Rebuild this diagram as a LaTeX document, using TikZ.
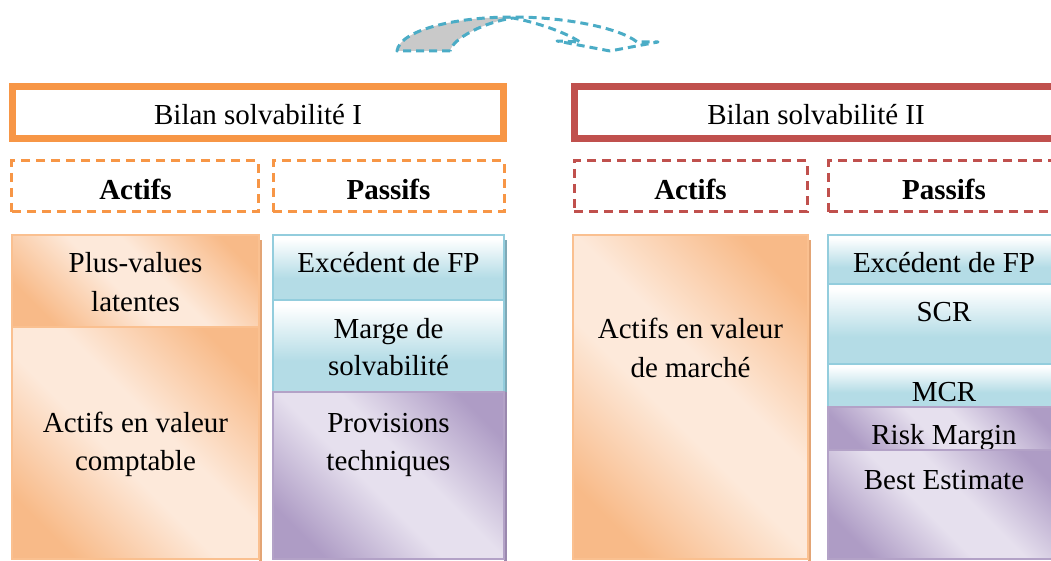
\documentclass[tikz,border=0pt]{standalone}
\usepackage{fontspec}
\setmainfont{Liberation Serif}

% palette
\definecolor{orangeI}{HTML}{F79646}
\definecolor{redII}{HTML}{C0504D}
\definecolor{odark}{HTML}{F8BA88}
\definecolor{olight}{HTML}{FDE9DA}
\definecolor{oborder}{HTML}{FAC090}
\definecolor{oshadow}{HTML}{E3A575}
\definecolor{bdark}{HTML}{B4DCE6}
\definecolor{bborder}{HTML}{93CDDD}
\definecolor{bshadow}{HTML}{7FA9B6}
\definecolor{pdark}{HTML}{AE9CC5}
\definecolor{plight}{HTML}{E6E0EE}
\definecolor{pborder}{HTML}{B3A2C7}
\definecolor{pshadow}{HTML}{9A88AE}
\definecolor{arrowblue}{HTML}{4BACC6}
\definecolor{arrowgray}{HTML}{C9C9C9}

% diagonal bands: dark corners, light middle
\pgfdeclarehorizontalshading{orangeband}{100bp}{color(0bp)=(odark); color(24bp)=(odark); color(45bp)=(olight); color(56bp)=(olight); color(77bp)=(odark); color(100bp)=(odark)}
\pgfdeclarehorizontalshading{purpleband}{100bp}{color(0bp)=(pdark); color(24bp)=(pdark); color(45bp)=(plight); color(56bp)=(plight); color(77bp)=(pdark); color(100bp)=(pdark)}
% white on top, blue at the bottom
\pgfdeclareverticalshading{bluefade}{100bp}{color(0bp)=(bdark); color(25bp)=(bdark); color(42bp)=(bdark); color(72bp)=(white); color(100bp)=(white)}

\tikzset{
  txt/.style={font=\fontsize{29bp}{39bp}\selectfont, inner sep=0pt, anchor=base},
  hdr/.style={font=\fontsize{29bp}{39bp}\selectfont\bfseries, inner sep=0pt, anchor=base},
  titlebox/.style={draw=#1, line width=7bp, fill=white, inner sep=0pt},
  headbox/.style={draw=#1, line width=3bp, dash pattern=on 9bp off 6bp, inner sep=0pt},
  orangecell/.style={draw=oborder, line width=2.5bp, shading=orangeband, shading angle=45},
  bluecell/.style={draw=bborder, line width=2.5bp, shading=bluefade},
  purplecell/.style={draw=pborder, line width=2.5bp, shading=purpleband, shading angle=45},
  arrowline/.style={draw=arrowblue, line width=3bp, dash pattern=on 8bp off 5bp},
}

\begin{document}
\begin{tikzpicture}[x=1bp, y=-1bp]
\useasboundingbox (0,0) rectangle (1051,561);

% ---- curved arrow between the two balance sheets
\coordinate (tailL) at (397,51);
\coordinate (tailR) at (450,51);
\coordinate (apex) at (513,17);
\coordinate (apexin) at (513,18);
\coordinate (shaftout) at (637,42);
\coordinate (shaftin) at (580,42);
\coordinate (barbR) at (658,42);
\coordinate (barbL) at (557,41);
\coordinate (tip) at (610,51);
\fill[arrowgray] (tailL) .. controls (400,30) and (455,17) .. (apex)
   -- (apexin) .. controls (485,22) and (453,38) .. (tailR) -- cycle;
\draw[arrowline, line join=round]
   (tailR) -- (tailL) .. controls (400,30) and (455,17) .. (apex)
   .. controls (565,17) and (620,28) .. (shaftout) -- (barbR) -- (tip) -- (barbL) -- (shaftin)
   .. controls (565,32) and (535,22) .. (apexin)
   .. controls (485,22) and (453,38) .. (tailR);

% ---- titles
\node[titlebox=orangeI, minimum width=491bp, minimum height=52bp] (bilanI) at (258,113) {};
\node[txt] (bilanItxt) at (258,125) {Bilan solvabilité I};
\node[titlebox=redII, minimum width=484bp, minimum height=52bp] (bilanII) at (816.5,113) {};
\node[txt] (bilanIItxt) at (816,125) {Bilan solvabilité II};

% ---- column headers
\node[headbox=orangeI, minimum width=246bp, minimum height=51bp] (actI) at (135,186.5) {};
\node[hdr] (actItxt) at (135.5,200) {Actifs};
\node[headbox=orangeI, minimum width=231bp, minimum height=51bp] (pasI) at (388.5,186.5) {};
\node[hdr] (pasItxt) at (388.5,200) {Passifs};
\node[headbox=redII, minimum width=233bp, minimum height=51bp] (actII) at (690.5,186.5) {};
\node[hdr] (actIItxt) at (690.5,200) {Actifs};
\node[headbox=redII, minimum width=231bp, minimum height=51bp] (pasII) at (944,186.5) {};
\node[hdr] (pasIItxt) at (944,200) {Passifs};

% ---- soft shadows on the right of the columns
\fill[oshadow] (259,240) rectangle (262,566);
\fill[bshadow] (504,240) rectangle (507,392);
\fill[pshadow] (504,392) rectangle (507,566);
\fill[oshadow] (808,240) rectangle (811,566);

% ---- Solvabilité I : actifs
\path[orangecell] (12,235) rectangle (259,327) node[midway, inner sep=0pt] (plusval) {};
\node[txt] (plusvalA) at (135.5,273) {Plus-values};
\node[txt] (plusvalB) at (135.5,312) {latentes};
\path[orangecell] (12,327) rectangle (259,559) node[midway, inner sep=0pt] (vcompt) {};
\node[txt] (vcomptA) at (135.5,432) {Actifs en valeur};
\node[txt] (vcomptB) at (135.5,470) {comptable};

% ---- Solvabilité I : passifs
\path[bluecell] (273,235) rectangle (504,300) node[midway, inner sep=0pt] (excI) {};
\node[txt] (excItxt) at (388.5,273) {Excédent de FP};
\path[bluecell] (273,300) rectangle (504,392) node[midway, inner sep=0pt] (marge) {};
\node[txt] (margeA) at (388.5,339) {Marge de};
\node[txt] (margeB) at (388.5,376) {solvabilité};
\path[purplecell] (273,392) rectangle (504,559) node[midway, inner sep=0pt] (prov) {};
\node[txt] (provA) at (388.5,432) {Provisions};
\node[txt] (provB) at (388.5,470) {techniques};

% ---- Solvabilité II : actifs
\path[orangecell] (573,235) rectangle (808,559) node[midway, inner sep=0pt] (vmarche) {};
\node[txt] (vmarcheA) at (690.5,339) {Actifs en valeur};
\node[txt] (vmarcheB) at (690.5,378) {de marché};

% ---- Solvabilité II : passifs
\path[bluecell] (828,235) rectangle (1060,284) node[midway, inner sep=0pt] (excII) {};
\node[txt] (excIItxt) at (944,273) {Excédent de FP};
\path[bluecell] (828,284) rectangle (1060,364) node[midway, inner sep=0pt] (scr) {};
\node[txt] (scrtxt) at (944,322) {SCR};
\path[bluecell] (828,364) rectangle (1060,407) node[midway, inner sep=0pt] (mcr) {};
\node[txt] (mcrtxt) at (944,401) {MCR};
\path[purplecell] (828,407) rectangle (1060,450) node[midway, inner sep=0pt] (risk) {};
\node[txt] (risktxt) at (944,444) {Risk Margin};
\path[purplecell] (828,450) rectangle (1060,559) node[midway, inner sep=0pt] (best) {};
\node[txt] (besttxt) at (944,489) {Best Estimate};
\end{tikzpicture}
\end{document}
